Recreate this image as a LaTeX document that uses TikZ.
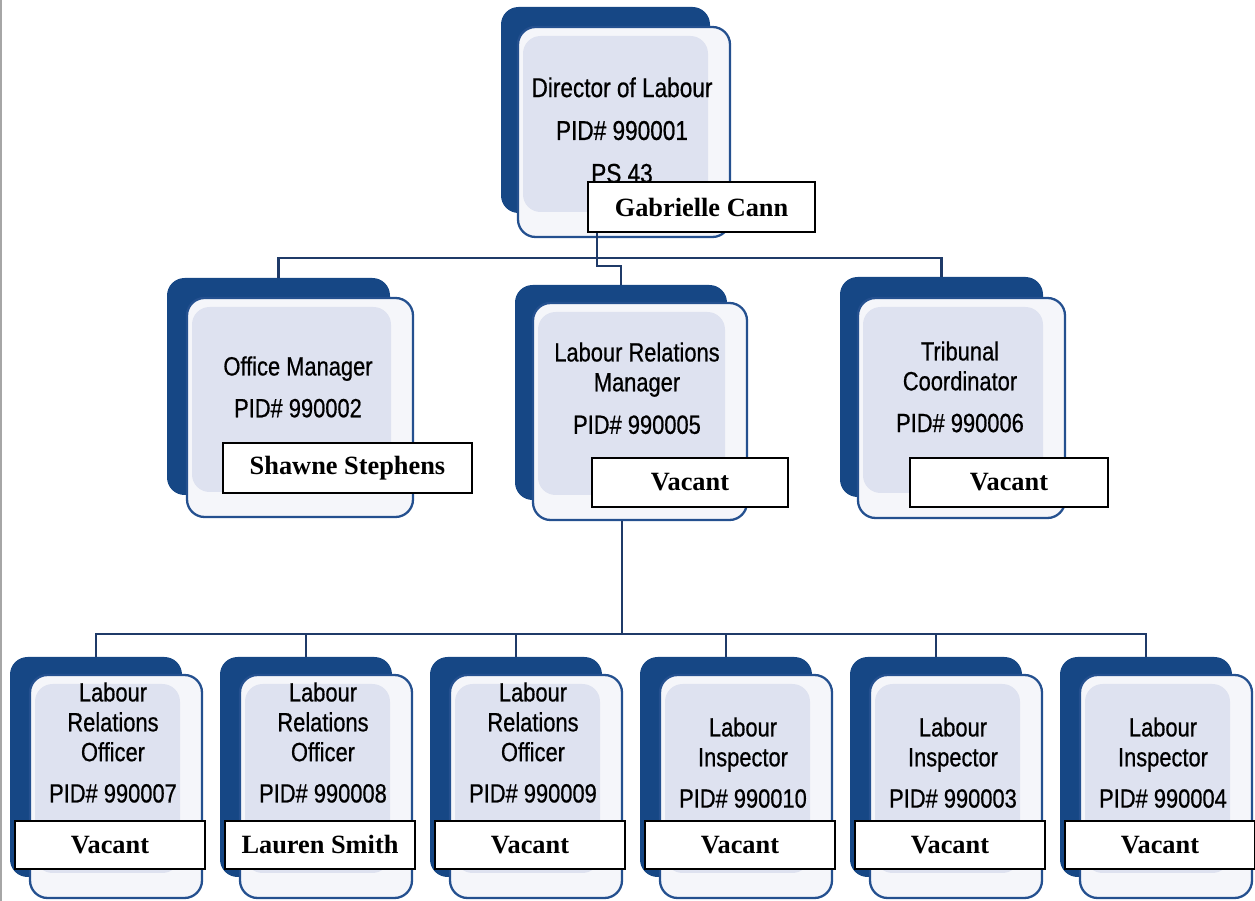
\documentclass[tikz,border=0pt]{standalone}
\usepackage{fontspec}
\setmainfont{Liberation Serif}
\newfontfamily\cardfont{Liberation Sans}[FakeStretch=0.83,FakeBold=0.6]

\definecolor{navy}{HTML}{164785}
\definecolor{rim}{HTML}{24508F}
\definecolor{lav}{HTML}{DEE2F0}
\definecolor{cardbg}{HTML}{F5F6FA}
\definecolor{wirec}{HTML}{1F3A68}

\tikzset{
  px size/.style 2 args={minimum width=#1*0.02cm,minimum height=#2*0.02cm},
  back/.style={fill=navy,rounded corners=10pt,inner sep=0pt},
  card/.style={draw=rim,line width=1.3pt,fill=cardbg,rounded corners=10pt,inner sep=0pt,
    path picture={\fill[lav] ([shift={(5,9)}]path picture bounding box.north west)
      rectangle ([shift={(-22,-25)}]path picture bounding box.south east);}},
  title/.style={inner sep=0pt,align=center,anchor=north,font=\cardfont\fontsize{15}{17}\selectfont},
  tag/.style={draw=black,line width=1.2pt,fill=white,inner sep=0pt,font=\fontsize{15}{18}\selectfont\bfseries},
  wire/.style={draw=wirec,line width=1.2pt}
}

\begin{document}
\begin{tikzpicture}[x=0.02cm,y=-0.02cm]
\useasboundingbox (0,0) rectangle (1255,901);
\draw[gray!70,line width=1pt] (1,0) -- (1,901);
% ---------- director ----------
\node[back,px size={209}{206}] (dir-back) at (605.5,110) {};
\node[card,px size={212}{210}] (dir) at (624,132) {};
\node[title,font=\cardfont\fontsize{15.5}{24.4}\selectfont] (dir-txt) at (622,77) {Director of Labour\\PID\# 990001\\PS 43};
\node[tag,px size={227}{50}] (dir-tag) at (701.5,207) {Gabrielle Cann};
% ---------- office manager ----------
\node[back,px size={223}{217}] (om-back) at (278.5,386.5) {};
\node[card,px size={226}{219}] (om) at (300,407.5) {};
\node[title] (om-txt) at (298,356) {Office Manager\\[6.8pt]PID\# 990002};
\node[tag,px size={249}{50}] (om-tag) at (347.5,468) {Shawne Stephens};
% ---------- labour relations manager ----------
\node[back,px size={212}{215}] (lrm-back) at (621,392.5) {};
\node[card,px size={214}{217}] (lrm) at (640,411.5) {};
\node[title] (lrm-txt) at (637,342) {Labour Relations\\Manager\\[7.2pt]PID\# 990005};
\node[tag,px size={196}{49}] (lrm-tag) at (690,482.5) {Vacant};
% ---------- tribunal coordinator ----------
\node[back,px size={203}{220}] (tc-back) at (941.5,387) {};
\node[card,px size={207}{220}] (tc) at (961.5,408) {};
\node[title] (tc-txt) at (960,341) {Tribunal\\Coordinator\\[6.8pt]PID\# 990006};
\node[tag,px size={198}{49}] (tc-tag) at (1009,482.5) {Vacant};
% ---------- officers ----------
\node[back,px size={172}{220}] (b1-back) at (96,767) {};
\node[card,px size={172}{223}] (b1) at (116,786.5) {};
\node[title] (b1-txt) at (113,682) {Labour\\Relations\\Officer\\[6.5pt]PID\# 990007};
\node[tag,px size={190}{48}] (b1-tag) at (110,845) {Vacant};

\node[back,px size={172}{220}] (b2-back) at (306,767) {};
\node[card,px size={172}{223}] (b2) at (326,786.5) {};
\node[title] (b2-txt) at (323,682) {Labour\\Relations\\Officer\\[6.5pt]PID\# 990008};
\node[tag,px size={190}{48}] (b2-tag) at (320,845) {Lauren Smith};

\node[back,px size={172}{220}] (b3-back) at (516,767) {};
\node[card,px size={172}{223}] (b3) at (536,786.5) {};
\node[title] (b3-txt) at (533,682) {Labour\\Relations\\Officer\\[6.5pt]PID\# 990009};
\node[tag,px size={190}{48}] (b3-tag) at (530,845) {Vacant};
% ---------- inspectors ----------
\node[back,px size={172}{220}] (b4-back) at (726,767) {};
\node[card,px size={172}{223}] (b4) at (746,786.5) {};
\node[title] (b4-txt) at (743,717) {Labour\\Inspector\\[6.5pt]PID\# 990010};
\node[tag,px size={190}{48}] (b4-tag) at (740,845) {Vacant};

\node[back,px size={172}{220}] (b5-back) at (936,767) {};
\node[card,px size={172}{223}] (b5) at (956,786.5) {};
\node[title] (b5-txt) at (953,717) {Labour\\Inspector\\[6.5pt]PID\# 990003};
\node[tag,px size={190}{48}] (b5-tag) at (950,845) {Vacant};

\node[back,px size={172}{220}] (b6-back) at (1146,767) {};
\node[card,px size={172}{223}] (b6) at (1166,786.5) {};
\node[title] (b6-txt) at (1163,717) {Labour\\Inspector\\[6.5pt]PID\# 990004};
\node[tag,px size={190}{48}] (b6-tag) at (1160,845) {Vacant};
% ---------- lines: director -> managers ----------
\coordinate (hub1) at (597,258);
\draw[wire] (hub1 |- dir-tag.south) -- (hub1);
\draw[wire] (om-back.north) |- (hub1) -| (tc-back.north);
\draw[wire] (hub1) -- ++(0,8) -| (lrm-back.north);
% ---------- lines: manager -> staff ----------
\coordinate (hub2) at (622,634);
\draw[wire] (lrm.south -| hub2) -- (hub2);
\draw[wire] (b1-back.north) |- (hub2) -| (b6-back.north);
\draw[wire] (b2-back.north) -- (b2-back.north |- hub2);
\draw[wire] (b3-back.north) -- (b3-back.north |- hub2);
\draw[wire] (b4-back.north) -- (b4-back.north |- hub2);
\draw[wire] (b5-back.north) -- (b5-back.north |- hub2);
\end{tikzpicture}
\end{document}
